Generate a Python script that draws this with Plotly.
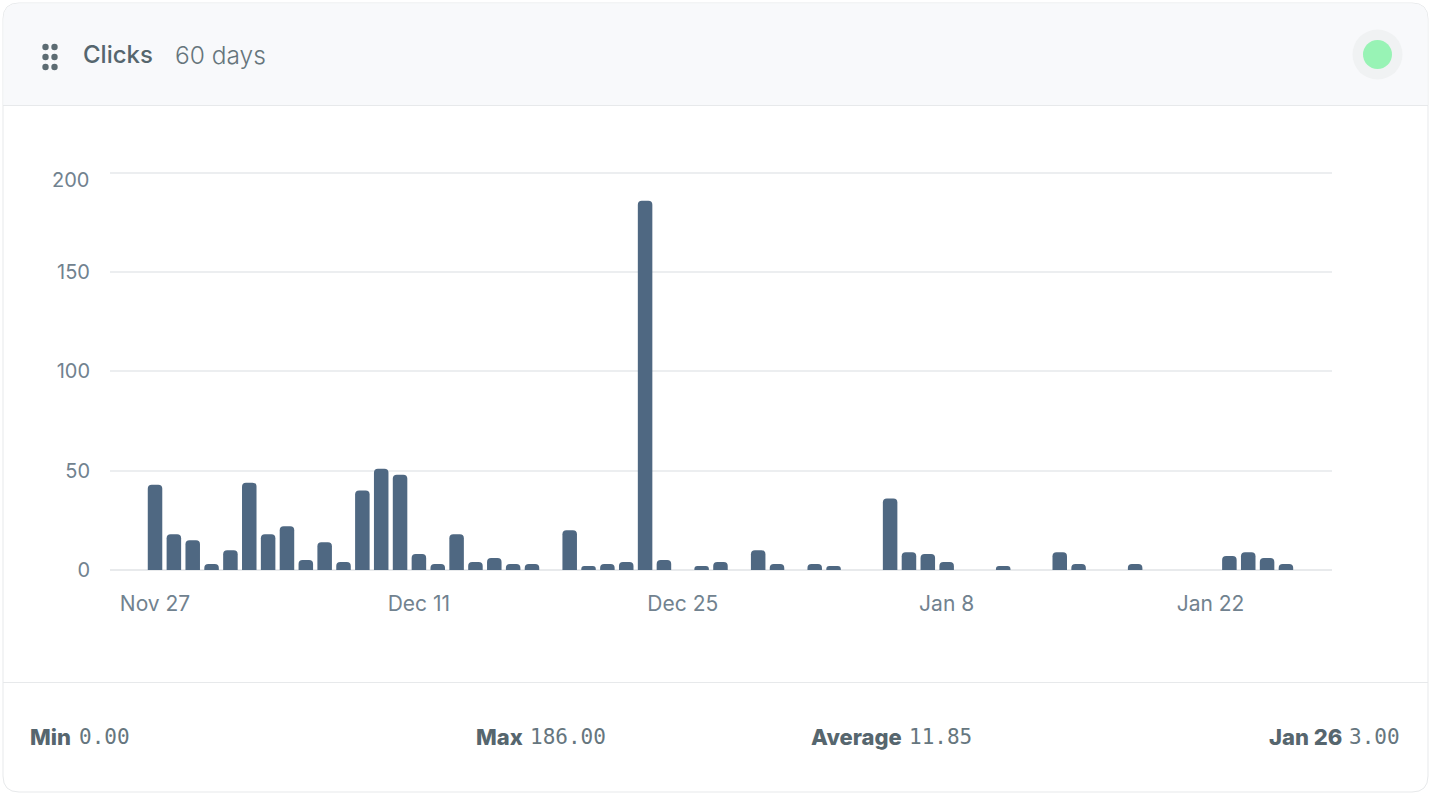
import plotly.graph_objects as go
import pandas as pd

W = 1434
H = 796

# daily clicks, Nov 27 to Jan 26
dates = pd.date_range("2022-11-27", "2023-01-26").strftime("%Y-%m-%d").tolist()
clicks = [43, 18, 15, 3, 10, 44, 18, 22, 5, 14,
          4, 40, 51, 48, 8, 3, 18, 4, 6, 3,
          3, 0, 20, 2, 3, 4, 186, 5, 0, 2,
          4, 0, 10, 3, 0, 3, 2, 0, 0, 36,
          9, 8, 4, 0, 0, 2, 0, 0, 9, 3,
          0, 0, 3, 0, 0, 0, 0, 7, 9, 6,
          3]

x_ticks = ["2022-11-27", "2022-12-11", "2022-12-25", "2023-01-08", "2023-01-22"]
x_labels = ["Nov 27", "Dec 11", "Dec 25", "Jan 8", "Jan 22"]
y_ticks = [0, 50, 100, 150, 200]
y_labels = ["0", "50", "100", "150", ""]  # top label sits lower than its line, added below

footer_names = ["Min", "Max", "Average", "Jan 26"]
footer_values = ["0.00", "186.00", "11.85", "3.00"]
footer_name_right = [72, 524, 903, 1343]
footer_value_left = [78, 529, 908, 1348]

SANS = "Inter, 'Noto Sans', sans-serif"
MONO = "'DejaVu Sans Mono', monospace"
BORDER = "#e7e9eb"
TICK_COLOR = "#71828f"


# pixel position in the page to paper coordinates
def px(x):
    return x / W


def py(y):
    return 1 - y / H


def rounded_path(x0, y0, x1, y1, r_top, r_bottom):
    pts = [
        f"M {px(x0 + r_top)} {py(y0)}",
        f"L {px(x1 - r_top)} {py(y0)}",
        f"Q {px(x1)} {py(y0)} {px(x1)} {py(y0 + r_top)}",
        f"L {px(x1)} {py(y1 - r_bottom)}",
        f"Q {px(x1)} {py(y1)} {px(x1 - r_bottom)} {py(y1)}",
        f"L {px(x0 + r_bottom)} {py(y1)}",
        f"Q {px(x0)} {py(y1)} {px(x0)} {py(y1 - r_bottom)}",
        f"L {px(x0)} {py(y0 + r_top)}",
        f"Q {px(x0)} {py(y0)} {px(x0 + r_top)} {py(y0)}",
        "Z",
    ]
    return " ".join(pts)


def circle(cx, cy, r, color):
    return dict(type="circle", xref="paper", yref="paper", layer="below",
                x0=px(cx - r), x1=px(cx + r), y0=py(cy + r), y1=py(cy - r),
                fillcolor=color, line_width=0)


def hline(y):
    return dict(type="line", xref="paper", yref="paper", layer="below",
                x0=px(3), x1=px(1428), y0=py(y), y1=py(y),
                line=dict(color=BORDER, width=1))


shapes = [
    # card and header
    dict(type="path", xref="paper", yref="paper", layer="below",
         path=rounded_path(3, 3, 1428, 792, 16, 16),
         fillcolor="white", line=dict(color=BORDER, width=1)),
    dict(type="path", xref="paper", yref="paper", layer="below",
         path=rounded_path(3.5, 3.5, 1427.5, 105, 16, 0),
         fillcolor="#f8f9fb", line_width=0),
    hline(105.5),
    hline(682.5),
    # status light
    circle(1377.5, 54.5, 25, "#f0f2f3"),
    circle(1377.5, 54.5, 14.5, "#98f3b5"),
]

# drag handle dots
for cx in [45.5, 54.5]:
    for cy in [47, 57, 67]:
        shapes.append(circle(cx, cy, 3.2, "#5c6b72"))

annotations = [
    dict(x=px(82), y=py(55), text="Clicks", xanchor="left",
         font=dict(family=SANS, size=24, color="#56666e", weight=500)),
    dict(x=px(174), y=py(55), text="60 days", xanchor="left",
         font=dict(family=SANS, size=24.5, color="#66757c", weight=300)),
    dict(x=px(90), y=py(180), text="200", xanchor="right",
         font=dict(family=SANS, size=20, color=TICK_COLOR)),
]
for name, value, right, left in zip(footer_names, footer_values, footer_name_right, footer_value_left):
    annotations.append(dict(x=px(right), y=py(737), text=name, xanchor="right",
                            font=dict(family=SANS, size=22, color="#56666e", weight=800)))
    annotations.append(dict(x=px(left), y=py(737), text=value, xanchor="left",
                            font=dict(family=MONO, size=21, color="#66767e")))
for a in annotations:
    a.update(xref="paper", yref="paper", yanchor="middle", showarrow=False,
             xshift=0, yshift=0, borderpad=0)

fig = go.Figure(go.Bar(
    x=dates,
    y=clicks,
    marker=dict(color="#4f6882", cornerradius=4, line_width=0),
    hovertemplate="%{x|%b %-d}: %{y}<extra></extra>",
))

fig.update_layout(
    width=W,
    height=H,
    margin=dict(l=0, r=0, t=0, b=0),
    paper_bgcolor="white",
    plot_bgcolor="rgba(0,0,0,0)",
    bargap=0.23,
    showlegend=False,
    shapes=shapes,
    annotations=annotations,
    xaxis=dict(
        type="date",
        automargin=False,
        domain=[px(110), px(1332)],
        range=["2022-11-24 14:40", "2023-01-28 10:40"],
        tickvals=x_ticks,
        ticktext=x_labels,
        showgrid=False,
        zeroline=False,
        showline=False,
        ticks="outside",
        ticklen=15,
        tickcolor="rgba(0,0,0,0)",
        tickfont=dict(family=SANS, size=21, color=TICK_COLOR),
    ),
    yaxis=dict(
        automargin=False,
        # a little headroom so the line at 200 is still drawn
        domain=[py(570), py(171)],
        range=[0, 201],
        tickvals=y_ticks,
        ticktext=y_labels,
        gridcolor="#eceef0",
        gridwidth=2,
        zeroline=True,
        zerolinecolor="#e8eaec",
        zerolinewidth=2,
        showline=False,
        ticks="outside",
        ticklen=15,
        tickcolor="rgba(0,0,0,0)",
        tickfont=dict(family=SANS, size=20, color=TICK_COLOR),
    ),
)

fig.write_html("out.html", config={"displayModeBar": False},
               post_script="document.body.style.margin='0';")
